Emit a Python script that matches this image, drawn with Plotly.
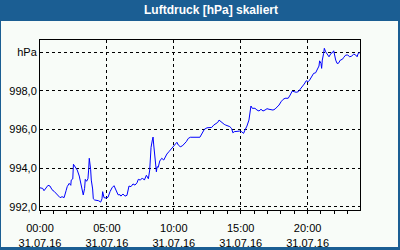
import plotly.graph_objects as go

title_text = "Luftdruck [hPa] skaliert"
date_str = "2016-07-31"

times = ["00:00","00:12","00:18","00:27","00:36","00:45","00:54","01:03","01:12","01:21",
         "01:30","01:39","01:48","01:57","02:02","02:11","02:18","02:20","02:27","02:30",
         "02:38","02:47","02:56","03:02","03:08","03:11","03:14","03:20","03:23","03:29",
         "03:35","03:38","03:41","03:47","03:50","03:56","03:59","04:05","04:14","04:23",
         "04:32","04:38","04:41","04:47","04:56","05:05","05:14","05:23","05:32","05:41",
         "05:50","05:59","06:03","06:12","06:21","06:30","06:36","06:39","06:48","06:57",
         "07:06","07:15","07:21","07:30","07:39","07:48","07:57","08:06","08:12","08:15",
         "08:18","08:24","08:27","08:30","08:33","08:36","08:39","08:42","08:45","08:50",
         "08:57","09:06","09:15","09:21","09:29","09:38","09:47","09:56","10:05","10:14",
         "10:20","10:29","10:38","10:47","10:56","11:05","11:14","11:57","12:05","12:17",
         "12:29","12:41","12:50","12:59","13:08","13:17","13:23","13:32","13:37","13:46",
         "13:53","14:02","14:11","14:19","14:25","14:31","14:43","14:55","15:04","15:13",
         "15:19","15:28","15:37","15:40","15:43","15:46","15:52","16:04","16:13","16:22",
         "16:31","16:40","16:49","16:58","17:07","17:16","17:25","17:34","17:43","17:52",
         "18:01","18:10","18:19","18:33","18:42","18:51","19:00","19:09","19:18","19:27",
         "19:36","19:45","19:54","20:03","20:09","20:18","20:27","20:36","20:45","20:51",
         "20:54","21:00","21:03","21:06","21:12","21:15","21:21","21:30","21:36","21:45",
         "21:51","21:57","22:00","22:06","22:12","22:18","22:27","22:36","22:42","22:51",
         "23:00","23:09","23:18","23:27","23:36","23:42","23:47","23:54"]

pressure = [992.98,992.95,992.83,992.98,993.11,993.07,992.88,992.80,992.67,992.57,
            992.47,992.52,992.47,992.83,993.04,993.21,993.11,993.38,993.44,994.20,
            994.07,993.90,993.59,993.30,993.02,992.78,992.61,992.95,993.42,993.32,
            993.45,993.90,994.51,993.94,993.38,992.92,992.41,992.35,992.33,992.31,
            992.24,992.41,992.78,992.47,992.45,992.49,992.78,992.98,993.09,992.83,
            992.62,992.62,992.55,992.66,992.55,992.59,992.87,993.07,993.04,993.18,
            993.12,993.24,993.42,993.38,993.49,993.38,993.63,993.45,993.90,994.42,
            995.08,995.46,995.61,995.20,994.77,994.33,994.16,993.81,994.07,994.04,
            994.37,994.51,994.42,994.59,994.73,994.85,994.97,995.11,995.20,995.34,
            995.20,995.11,995.15,995.25,995.37,995.54,995.60,995.60,995.80,996.01,
            996.09,996.09,996.11,996.23,996.32,996.37,996.49,996.40,996.32,996.27,
            996.23,996.20,996.15,996.06,995.83,995.89,995.92,995.92,995.89,995.80,
            995.97,996.18,996.49,996.75,997.01,997.22,997.10,997.10,997.01,996.96,
            997.05,996.96,997.01,997.08,997.05,997.01,997.01,997.06,997.15,997.27,
            997.44,997.56,997.62,997.62,997.79,997.99,997.96,997.93,997.96,998.08,
            998.22,998.36,998.53,998.48,998.56,998.77,998.91,998.94,999.12,999.29,
            999.56,999.43,999.17,999.60,999.95,1000.21,1000.03,999.90,999.77,999.95,
            999.98,1000.08,999.86,999.60,999.43,999.43,999.60,999.64,999.74,999.86,
            999.86,999.77,999.81,999.91,999.86,999.77,999.95,999.98]

y_tickvals = [992, 994, 996, 998, 1000]
y_ticktext = ["992,0", "994,0", "996,0", "998,0", "hPa"]
y_range = [991.83, 1000.64]
x_range = ["2016-07-31 00:00", "2016-07-31 23:55"]

BLUE = "#1b5e93"
BG = "#f8fcf8"
FONT = "Liberation Sans"

x_vals = [f"{date_str} {t}" for t in times]

fig = go.Figure()
fig.add_trace(go.Scatter(x=x_vals, y=pressure, mode="lines",
                         line=dict(color="#0000ff", width=1), hoverinfo="skip"))

W, H = 400, 250
L, R, T, B = 40, 40, 40, 40
pw, ph = W - L - R, H - T - B

def px_x(p):
    return (p - L) / pw

def px_y(p):
    return (H - B - p) / ph

fig.update_layout(
    width=W, height=H, autosize=False,
    margin=dict(l=L, r=R, t=T, b=B, pad=0),
    paper_bgcolor=BLUE, plot_bgcolor=BG,
    showlegend=False,
    font=dict(family=FONT, size=11, color="black"),
    shapes=[dict(type="rect", xref="paper", yref="paper", layer="below",
                 x0=px_x(1), x1=px_x(398), y0=px_y(247), y1=px_y(21),
                 fillcolor=BG, line=dict(width=0))],
    annotations=[dict(text="<b>" + title_text + "</b>", xref="paper", yref="paper",
                      x=px_x(211), y=px_y(10.5), xanchor="center", yanchor="middle",
                      showarrow=False, font=dict(family=FONT, size=12, color="white"))],
)

fig.update_xaxes(
    type="date", range=x_range, automargin=False,
    tick0="2016-07-31 00:00", dtick=5 * 3600000,
    tickformat="%H:%M<br>%d.%m.%y",
    ticks="outside", ticklen=3, tickcolor="black", tickwidth=1,
    ticklabelstandoff=5,
    minor=dict(dtick=3600000, ticks="outside", ticklen=3, tickcolor="black", showgrid=False),
    showgrid=True, gridcolor="black", gridwidth=1, griddash="3px,3px",
    showline=True, linecolor="black", linewidth=1, mirror=True,
    zeroline=False, tickfont=dict(family=FONT, size=11, color="black"),
)
fig.update_yaxes(
    range=y_range, tickvals=y_tickvals, ticktext=y_ticktext, automargin=False,
    ticks="", showgrid=True, gridcolor="black", gridwidth=1, griddash="3px,3px",
    showline=True, linecolor="black", linewidth=1, mirror=True,
    zeroline=False, tickfont=dict(family=FONT, size=11, color="black"),
)

fig.write_html("out.html", config={"displayModeBar": False})
